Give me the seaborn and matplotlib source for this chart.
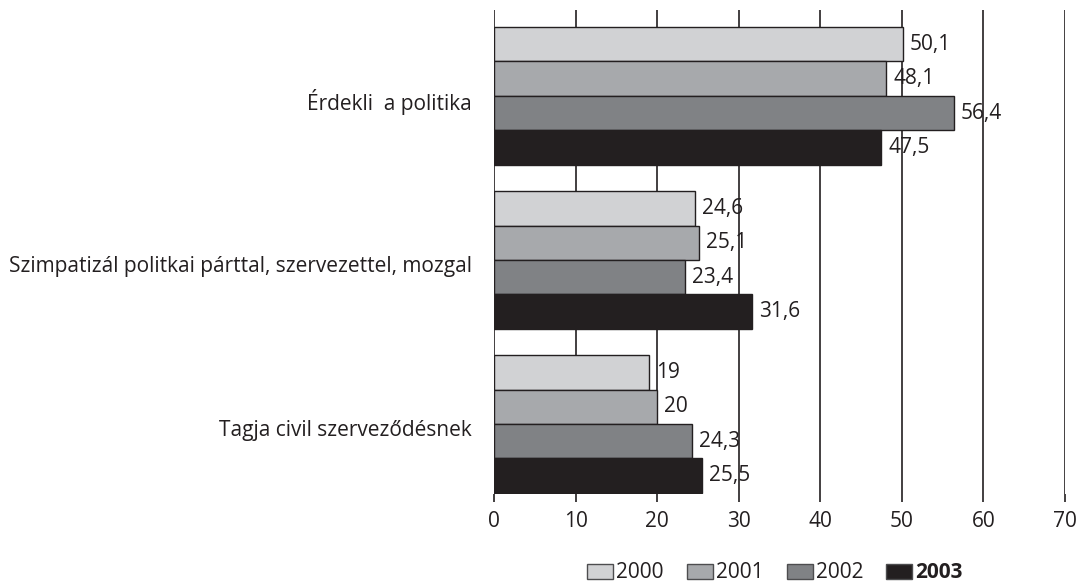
import matplotlib
matplotlib.use("Agg")
import matplotlib.pyplot as plt
import seaborn as sns
import pandas as pd
from matplotlib.transforms import ScaledTranslation

categories = ["Érdekli  a politika",
              "Szimpatizál politkai párttal, szervezettel, mozgal",
              "Tagja civil szerveződésnek"]
years = ["2000", "2001", "2002", "2003"]
v2000 = [50.1, 24.6, 19]
v2001 = [48.1, 25.1, 20]
v2002 = [56.4, 23.4, 24.3]
v2003 = [47.5, 31.6, 25.5]
colors = ["#d1d2d4", "#a7a9ac", "#808285", "#231f20"]
xticks = [0, 10, 20, 30, 40, 50, 60, 70]

sns.set_style("white")
plt.rcParams["font.family"] = ["Open Sans", "DejaVu Sans"]
TXT = "#231f20"
FS = 15

rows = []
for y, vals in zip(years, [v2000, v2001, v2002, v2003]):
    for c, v in zip(categories, vals):
        rows.append({"cat": c, "year": y, "value": v})
df = pd.DataFrame(rows)

fig = plt.figure(figsize=(10.81, 5.84), dpi=100)
ax = fig.add_axes([494/1081, 1-494/584, (1065-494)/1081, (494-10)/584])

sns.barplot(data=df, y="cat", x="value", hue="year", order=categories,
            hue_order=years, palette=colors, orient="h", width=0.84,
            edgecolor=TXT, linewidth=1.0, saturation=1, ax=ax)

ax.set_xlim(0, 70)
ax.set_ylim(2.427, -0.524)
ax.set_xticks(xticks)
ax.set_xticklabels([str(t) for t in xticks])
ax.set_xlabel("")
ax.set_ylabel("")
ax.set_axisbelow(True)
ax.grid(axis="x", color=TXT, linewidth=1.2)
ax.grid(axis="y", visible=False)
for s in ax.spines.values():
    s.set_visible(False)
ax.tick_params(axis="x", length=6, width=1.2, color=TXT, labelsize=FS,
               labelcolor=TXT, pad=6, bottom=True)
ax.tick_params(axis="y", length=0, labelsize=FS, labelcolor=TXT, pad=16)

offset = ScaledTranslation(0, -0.04, fig.dpi_scale_trans)
for lab in ax.get_yticklabels():
    lab.set_transform(lab.get_transform() + offset)

for cont in ax.containers:
    ax.bar_label(cont, labels=[f"{v:g}".replace(".", ",") for v in cont.datavalues],
                 padding=5, fontsize=FS, color=TXT)

handles, labels = ax.get_legend_handles_labels()
ax.legend_.remove()
for h in handles:
    h.set_edgecolor("#4d4d4f")
leg = fig.legend(handles, labels, loc="center", bbox_to_anchor=(775/1081, 1-573/584),
                 ncol=4, frameon=False, fontsize=FS, handlelength=1.25,
                 handleheight=0.75, handletextpad=0.15, columnspacing=1.1)
for t in leg.get_texts():
    t.set_color(TXT)
leg.get_texts()[-1].set_fontweight("bold")

fig.savefig("out.png", dpi=100)
